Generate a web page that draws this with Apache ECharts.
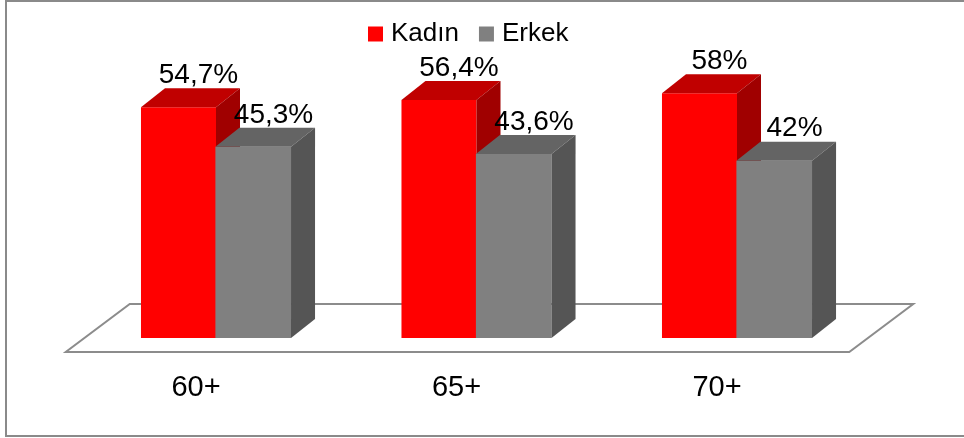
<!DOCTYPE html>
<html>
<head>
<meta charset="utf-8">
<script src="https://cdn.jsdelivr.net/npm/echarts@6/dist/echarts.min.js"></script>
<style>html,body{margin:0;padding:0;background:#fff;}#c{width:964px;height:438px;}</style>
</head>
<body>
<div id="c"></div>
<script>
const categories = ['60+', '65+', '70+'];
const seriesNames = ['Kadın', 'Erkek'];
const kadin = [54.7, 56.4, 58];
const erkek = [45.3, 43.6, 42];

const FONT = '"Liberation Sans", Arial, sans-serif';
const fmt = v => String(v).replace('.', ',') + '%';

function makeRender(side, front, topC, sideC) {
  return function (params, api) {
    const cat = api.value(0), val = api.value(1);
    const base = api.coord([cat, 0]);
    const top = api.coord([cat, val]);
    const band = api.size([1, 0])[0];
    const w = band * 0.288;
    const dx = w * 0.32, dy = w * 0.253;
    const x0 = side === 0 ? base[0] - w : base[0];
    const x1 = x0 + w;
    const yt = top[1], yb = base[1];
    const ov = side === 1 ? 0.6 : 0;
    return {
      type: 'group',
      children: [
        { type: 'rect', shape: { x: x0 - ov, y: yt, width: w + ov, height: yb - yt }, style: { fill: front } },
        { type: 'polygon', shape: { points: [[x0 - ov, yt], [x1, yt], [x1 + dx, yt - dy], [x0 + dx - ov, yt - dy]] }, style: { fill: topC } },
        { type: 'polygon', shape: { points: [[x1, yt], [x1 + dx, yt - dy], [x1 + dx, yb - dy], [x1, yb]] }, style: { fill: sideC } },
        { type: 'text', x: (x0 + x1) / 2 + 20, y: yt - dy + 1,
          style: { text: fmt(val), fill: '#000', font: '28px ' + FONT, align: 'center', verticalAlign: 'bottom' } }
      ]
    };
  };
}

function floorRender(params, api) {
  const cs = params.coordSys;
  const zero = cs.y + cs.height;
  const fl = cs.x - 20, fr = cs.x + cs.width - 18;
  return {
    type: 'polygon',
    shape: { points: [[fl, zero + 14], [fr, zero + 14], [fr + 64, zero - 34], [fl + 64, zero - 34]] },
    style: { fill: '#fff', stroke: '#8c8c8c', lineWidth: 2 }
  };
}

const chart = echarts.init(document.getElementById('c'), null, { renderer: 'canvas' });
chart.setOption({
  animation: false,
  backgroundColor: '#fff',
  textStyle: { fontFamily: FONT },
  graphic: [{
    type: 'rect', shape: { x: 6, y: 1, width: 970, height: 435 },
    style: { fill: 'none', stroke: '#8a8a8a', lineWidth: 2 }, z: 100
  }],
  legend: {
    data: seriesNames,
    left: 363, top: 16,
    icon: 'rect', itemWidth: 15, itemHeight: 15, itemGap: 20,
    textStyle: { fontSize: 26, color: '#000', fontFamily: FONT, padding: [0, 0, 0, 3] }
  },
  grid: { left: 85.75, right: 96.75, top: 42.6, bottom: 100 },
  xAxis: {
    type: 'category', data: categories,
    axisLine: { show: false }, axisTick: { show: false }, splitLine: { show: false },
    axisLabel: { fontSize: 29, color: '#000', margin: 35, padding: [0, 40, 0, 0], fontFamily: FONT }
  },
  yAxis: { type: 'value', min: 0, max: 70, show: false },
  series: [
    { type: 'custom', name: 'floor', renderItem: floorRender, data: [[0]], z: 1, silent: true },
    { type: 'custom', name: seriesNames[0], itemStyle: { color: '#FF0000' }, z: 2,
      renderItem: makeRender(0, '#FF0000', '#C00000', '#A00000'),
      data: kadin.map((v, i) => [i, v]) },
    { type: 'custom', name: seriesNames[1], itemStyle: { color: '#808080' }, z: 3,
      renderItem: makeRender(1, '#808080', '#646464', '#555555'),
      data: erkek.map((v, i) => [i, v]) }
  ]
});
</script>
</body>
</html>
